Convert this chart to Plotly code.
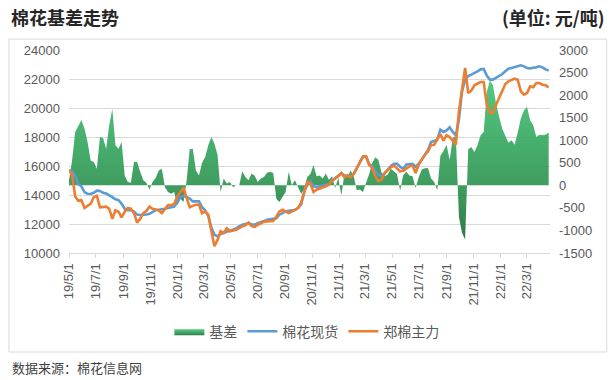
import pandas as pd
import plotly.graph_objects as go

# ---------------- data (weekly readings from the reference) ----------------
start_date = "2019-05-01"

spot = [
    15700, 15650, 15300, 14750, 14600, 14200, 14080, 14070, 14150, 14300,
    14280, 14150, 14100, 14000, 13850, 13700, 13650, 13400, 13050, 12950,
    12950, 12850, 12650, 12620, 12620, 12650, 12700, 12850, 12950, 12980,
    13000, 13050, 13100, 13150, 13200, 13500, 13850, 13950, 13850, 13750,
    13560, 13560, 13560, 13150, 12950, 12550, 11750, 11260, 11150, 11300,
    11380, 11450, 11550, 11600, 11700, 11840, 11950, 12000, 12050, 11980,
    11950, 12050, 12100, 12200, 12300, 12350, 12350, 12400, 12640, 12760,
    12870, 12920, 12950, 12970, 13100, 13330, 14250, 14700, 14950, 14600,
    14550, 14600, 14650, 14700, 14750, 15000, 15150, 15300, 15500, 15350,
    15350, 15300, 15450, 15850, 16200, 16650, 16650, 16100, 16000, 15600,
    15400, 15300, 15500, 15750, 16000, 16150, 16150, 15950, 15800, 16100,
    16150, 16150, 15950, 16150, 16450, 16800, 17100, 17650, 17750, 17815,
    18505, 18345, 18460, 18666, 18345, 18115, 19195, 21150, 21954, 22207,
    22299, 22390, 22529, 22667, 22690, 22230, 21954, 21954, 22069, 22184,
    22345, 22529, 22713, 22758, 22804, 22850, 22942, 22873, 22758, 22735,
    22758, 22804, 22873, 22804, 22667, 22575,
]

futures = [
    15700, 15400, 13900, 13600, 13650, 13100, 13250, 13400, 13850, 13950,
    13150, 13150, 13200, 13050, 12350, 12950, 12850, 12450, 12850, 13100,
    13050, 12750, 12100, 12350, 12750, 12900, 13200, 13050, 13000, 12950,
    12750, 13050, 13300, 13300, 13400, 13900, 14200, 14500, 13800, 13150,
    13250, 13330, 13330, 12750, 12850, 12650, 11500, 10470, 10900, 11500,
    11380, 11700, 11500, 11550, 11600, 11720, 11840, 11900, 12100, 11850,
    11800, 11950, 12050, 12150, 12180, 12180, 12200, 12500, 12870, 12980,
    12870, 12750, 12850, 12980, 13100, 13450, 14250, 14900, 14800, 14206,
    14367, 14436, 14528, 14597, 14712, 14988, 15126, 15287, 15517, 15218,
    15356, 15218, 15448, 15862, 16206, 16666, 16666, 16091, 15862, 15287,
    14942, 15057, 15517, 15747, 15908, 16046, 15816, 15632, 15678, 15816,
    15976, 16046, 15517, 16091, 16436, 16781, 17000, 17450, 17471, 17885,
    18207, 17747, 18115, 18000, 17700, 17471, 19770, 21150, 22758, 21034,
    21195, 21563, 21655, 21793, 21793, 20230, 19655, 19655, 20230, 20690,
    21264, 21655, 21839, 21931, 22023, 21954, 21149, 20920, 21034, 21494,
    21425, 21724, 21724, 21609, 21563, 21425,
]

basis = [
    110, 550, 1180, 1330, 1450, 1260, 960, 550, 520, 370,
    1070, 1050, 810, 1330, 1700, 890, 810, 960, 220, 75,
    60, 520, 520, 300, 110, 60, -90, 75, 160, 330,
    370, -40, -150, -185, -150, -440, -300, -370, 100, 800,
    810, 330, 220, 500, 630, 890, 1070, 920, 670, -150,
    150, 40, 75, -40, 0, 0, 310, 185, 110, 260,
    210, 75, 150, 185, 280, 300, 275, -300, -370, -260,
    -150, 300, 0, 110, -40, -185, -75, 185, 250, 450,
    200, 220, 150, 260, 120, 200, -60, 160, -220, 250,
    180, 330, 200, -110, -90, -150, 60, 250, 500, 620,
    560, 280, 200, 240, 370, 300, 250, -120, 230, 300,
    220, 200, -60, 180, 350, 380, 385, 150, 75, -110,
    650, 760, 900, 560, 1050, 1100, -700, -1050, -1200, 800,
    850, 740, 890, 1110, 1180, 2070, 2330, 2220, 1810, 1515,
    1255, 1095, 945, 1000, 900, 1170, 1480, 1660, 1740, 1440,
    1330, 1070, 1120, 1110, 1120, 1170,
]

dates = pd.date_range(start_date, periods=len(spot), freq="7D")

x_tick_dates = [
    "2019-05-01", "2019-07-01", "2019-09-01", "2019-11-01",
    "2020-01-01", "2020-03-01", "2020-05-01", "2020-07-01",
    "2020-09-01", "2020-11-01", "2021-01-01", "2021-03-01",
    "2021-05-01", "2021-07-01", "2021-09-01", "2021-11-01",
    "2022-01-01", "2022-03-01",
]
x_tick_labels = [
    "19/5/1", "19/7/1", "19/9/1", "19/11/1", "20/1/1", "20/3/1",
    "20/5/1", "20/7/1", "20/9/1", "20/11/1", "21/1/1", "21/3/1",
    "21/5/1", "21/7/1", "21/9/1", "21/11/1", "22/1/1", "22/3/1",
]
left_ticks = [10000, 12000, 14000, 16000, 18000, 20000, 22000, 24000]
left_labels = [str(v) for v in left_ticks]
right_ticks = [-1500, -1000, -500, 0, 500, 1000, 1500, 2000, 2500, 3000]
right_labels = [str(v) for v in right_ticks]

# ---------------- figure ----------------
W, H = 615, 380
L, R, T, B = 69.3, 550.0, 50.3, 253.3          # plot area in pixels
PW, PH = R - L, B - T


def px(x):
    return (x - L) / PW


def py(y):
    return (B - y) / PH


tick_font = dict(family="Liberation Sans, Noto Sans CJK SC", size=13, color="#595959")

fig = go.Figure()

# basis area (base subplot -> drawn underneath the lines)
fig.add_trace(go.Scatter(
    x=dates, y=basis, name="基差", mode="lines", yaxis="y",
    line=dict(width=0, color="#38ad62"),
    fill="tozeroy",
    fillgradient=dict(
        type="vertical",
        colorscale=[[0, "rgba(34,112,58,0.95)"], [0.33, "rgba(46,146,80,0.92)"],
                    [1, "rgba(64,196,116,0.9)"]],
        start=-1300, stop=2400,
    ),
))
# lines on the overlaying (left) axis
fig.add_trace(go.Scatter(
    x=dates, y=spot, name="棉花现货", mode="lines", yaxis="y2",
    line=dict(color="#5b9bd5", width=2.6),
))
fig.add_trace(go.Scatter(
    x=dates, y=futures, name="郑棉主力", mode="lines", yaxis="y2",
    line=dict(color="#ed7d31", width=2.6),
))

fig.update_layout(
    width=W, height=H,
    margin=dict(l=L, r=W - R, t=T, b=H - B, pad=0),
    paper_bgcolor="white", plot_bgcolor="rgba(0,0,0,0)",
    showlegend=True,
    legend=dict(
        orientation="h", x=px(307), xanchor="center", y=py(332), yanchor="middle",
        font=dict(family="Noto Sans CJK SC", size=14, color="#595959"),
        bgcolor="rgba(0,0,0,0)", itemwidth=30,
    ),
    xaxis=dict(
        type="date", range=["2019-05-01", "2022-04-23"],
        tickmode="array", tickvals=x_tick_dates, ticktext=x_tick_labels,
        tickangle=-90, tickfont=tick_font,
        showgrid=False, zeroline=False,
        showline=True, linecolor="#d9d9d9", linewidth=1,
        ticks="outside", ticklen=4, tickcolor="#d9d9d9", tickwidth=1,
    ),
    yaxis=dict(
        side="right", range=[-1500, 3000],
        tickmode="array", tickvals=right_ticks, ticktext=right_labels,
        tickfont=tick_font, showgrid=False, zeroline=False, showline=False,
        ticklabelstandoff=8,
    ),
    yaxis2=dict(
        side="left", overlaying="y", range=[10000, 24000],
        tickmode="array", tickvals=left_ticks, ticktext=left_labels,
        tickfont=tick_font, showgrid=True, gridcolor="#d9d9d9", gridwidth=1,
        zeroline=False, showline=False, ticklabelstandoff=8,
    ),
    shapes=[dict(
        type="rect", xref="paper", yref="paper",
        x0=px(9.3), x1=px(606.7), y0=py(352.3), y1=py(39.4),
        line=dict(color="#d9d9d9", width=1), fillcolor="rgba(0,0,0,0)",
        layer="below",
    )],
    annotations=[
        dict(text="<b>棉花基差走势</b>", xref="paper", yref="paper",
             x=px(9), y=py(17), xanchor="left", yanchor="middle", showarrow=False,
             font=dict(family="Noto Sans CJK SC", size=18, color="#262626")),
        dict(text="<b>(单位: 元/吨)</b>", xref="paper", yref="paper",
             x=px(607), y=py(17), xanchor="right", yanchor="middle", showarrow=False,
             font=dict(family="Noto Sans CJK SC", size=18, color="#262626")),
        dict(text="数据来源：棉花信息网", xref="paper", yref="paper",
             x=px(10), y=py(368), xanchor="left", yanchor="middle", showarrow=False,
             font=dict(family="Noto Sans CJK SC", size=13, color="#404040")),
    ],
)

fig.write_html("out.html", config={"displayModeBar": False},
               post_script="document.body.style.margin='0';")
